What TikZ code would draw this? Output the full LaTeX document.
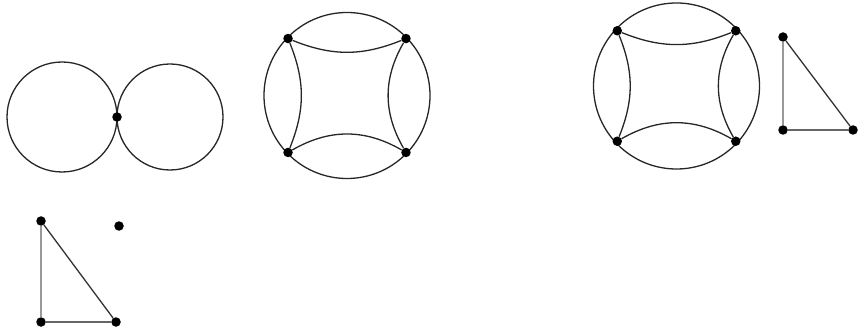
\documentclass[tikz,border=0pt]{standalone}
\usetikzlibrary{calc}
\begin{document}
\begin{tikzpicture}[x=1pt,y=1pt,
  edge/.style={line width=1.3pt, draw=black!85},
  dot/.style={circle, fill=black, inner sep=0pt, minimum size=9.5pt},
  vedge/.style={line width=2pt, draw=black!40},
  hedge/.style={line width=1.6pt, draw=black!60},
  dedge/.style={line width=1.3pt, draw=black!80}]
\useasboundingbox (0,0) rectangle (858,332);
% figure eight
\coordinate (L) at (62,215);
\coordinate (R) at (170,215);
\draw[edge] (L) circle (55);
\draw[edge] (R) circle (53);
\node[dot] (m) at (117,215) {};
% circle graph 1
\coordinate (c1) at (347,236.5);
\draw[edge] (c1) circle (83);
\node[dot] (a1) at ($(c1)+(136:82)$) {};
\node[dot] (b1) at ($(c1)+(44:82)$) {};
\node[dot] (d1) at ($(c1)+(224:82)$) {};
\node[dot] (e1) at ($(c1)+(316:82)$) {};
\draw[edge] (a1) to[bend right=22] (b1);
\draw[edge] (d1) to[bend left=30] (e1);
\draw[edge] (a1) to[bend left=22] (d1);
\draw[edge] (b1) to[bend right=30] (e1);
% circle graph 2
\coordinate (c2) at (676.5,246);
\draw[edge] (c2) circle (83);
\node[dot] (a2) at ($(c2)+(137:81)$) {};
\node[dot] (b2) at ($(c2)+(43:81)$) {};
\node[dot] (d2) at ($(c2)+(223:81)$) {};
\node[dot] (e2) at ($(c2)+(317:81)$) {};
\draw[edge] (a2) to[bend right=22] (b2);
\draw[edge] (d2) to[bend left=30] (e2);
\draw[edge] (a2) to[bend left=22] (d2);
\draw[edge] (b2) to[bend right=30] (e2);
% right triangle
\node[dot] (t1) at (783,295) {};
\node[dot] (t2) at (783,202) {};
\node[dot] (t3) at (853,202) {};
\draw[vedge] (t1) -- (t2);
\draw[hedge] (t2) -- (t3);
\draw[dedge] (t1) -- (t3);
% bottom triangle
\node[dot] (u1) at (41,111) {};
\node[dot] (u2) at (41,10) {};
\node[dot] (u3) at (116,10) {};
\node[dot] (u4) at (119,106) {};
\draw[vedge] (u1) -- (u2);
\draw[hedge] (u2) -- (u3);
\draw[dedge] (u1) -- (u3);
\end{tikzpicture}
\end{document}
